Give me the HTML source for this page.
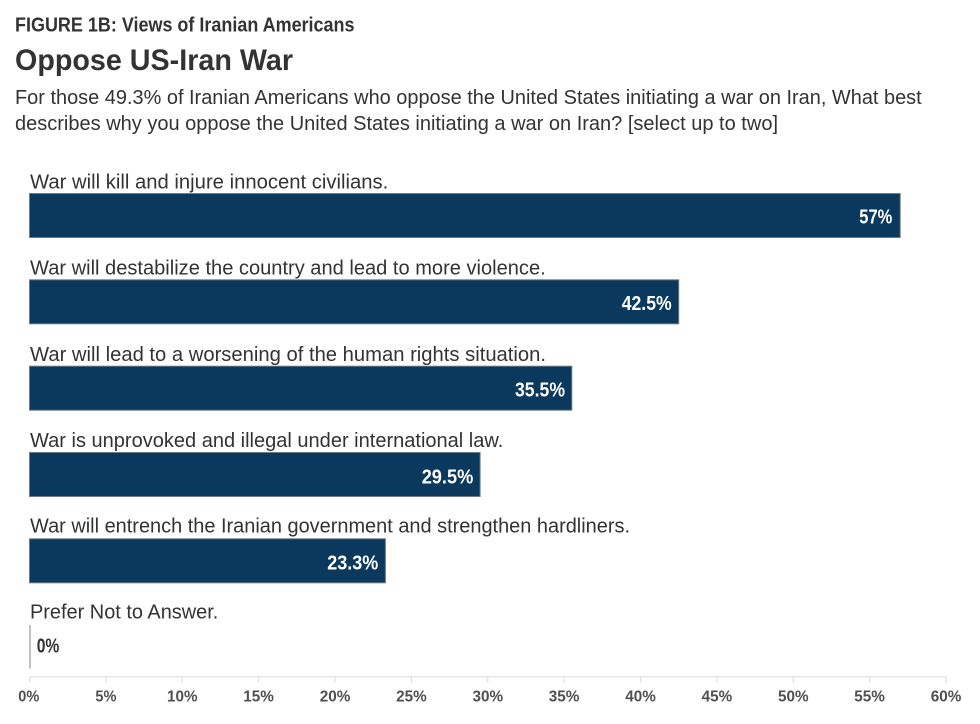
<!DOCTYPE html>
<html>
<head>
<meta charset="utf-8">
<style>
  html, body { margin: 0; padding: 0; background: #ffffff; }
  body { width: 980px; height: 724px; overflow: hidden; }
  svg { display: block; }
  text { font-family: "Liberation Sans Narrow", "Liberation Sans", "DejaVu Sans Condensed", sans-serif; }
</style>
</head>
<body>
<svg width="980" height="724" viewBox="0 0 980 724" xmlns="http://www.w3.org/2000/svg">
  <rect x="0" y="0" width="980" height="724" fill="#ffffff"/>

  <!-- Header -->
  <text x="15" y="31.5" font-size="20" font-weight="bold" fill="#333333" textLength="339.5" lengthAdjust="spacingAndGlyphs">FIGURE 1B: Views of Iranian Americans</text>
  <text x="15" y="70" font-size="30" font-weight="bold" fill="#333333" textLength="278" lengthAdjust="spacingAndGlyphs">Oppose US-Iran War</text>
  <text x="15" y="104" font-size="20" fill="#333333" textLength="906.7" lengthAdjust="spacingAndGlyphs">For those 49.3% of Iranian Americans who oppose the United States initiating a war on Iran, What best</text>
  <text x="15" y="130" font-size="20" fill="#333333" textLength="763" lengthAdjust="spacingAndGlyphs">describes why you oppose the United States initiating a war on Iran? [select up to two]</text>

  <!-- Category labels -->
  <text x="30" y="188.3" font-size="20" fill="#333333" textLength="358.3" lengthAdjust="spacingAndGlyphs">War will kill and injure innocent civilians.</text>
  <text x="30" y="274.7" font-size="20" fill="#333333" textLength="515.7" lengthAdjust="spacingAndGlyphs">War will destabilize the country and lead to more violence.</text>
  <text x="30" y="361" font-size="20" fill="#333333" textLength="516" lengthAdjust="spacingAndGlyphs">War will lead to a worsening of the human rights situation.</text>
  <text x="30" y="447" font-size="20" fill="#333333" textLength="473.3" lengthAdjust="spacingAndGlyphs">War is unprovoked and illegal under international law.</text>
  <text x="30" y="532.5" font-size="20" fill="#333333" textLength="600" lengthAdjust="spacingAndGlyphs">War will entrench the Iranian government and strengthen hardliners.</text>
  <text x="30" y="618.3" font-size="20" fill="#333333" textLength="188.3" lengthAdjust="spacingAndGlyphs">Prefer Not to Answer.</text>

  <!-- Bars -->
  <g fill="#0b385d" stroke="#6f7a84" stroke-width="1">
    <rect x="29.5" y="193.5" width="870.7" height="44"/>
    <rect x="29.5" y="279.8" width="649.2" height="44"/>
    <rect x="29.5" y="366.2" width="542.3" height="44"/>
    <rect x="29.5" y="452.5" width="450.6" height="44"/>
    <rect x="29.5" y="538.8" width="355.9" height="44"/>
  </g>
  <line x1="30" y1="625" x2="30" y2="668.5" stroke="#9a9a9a" stroke-width="1.2"/>

  <!-- Value labels -->
  <g font-size="20" font-weight="bold" fill="#ffffff" text-anchor="end">
    <text x="892.3" y="223.3" textLength="33" lengthAdjust="spacingAndGlyphs">57%</text>
    <text x="671.7" y="309.8" textLength="50" lengthAdjust="spacingAndGlyphs">42.5%</text>
    <text x="565" y="396.3" textLength="50" lengthAdjust="spacingAndGlyphs">35.5%</text>
    <text x="473.3" y="483.5" textLength="51.6" lengthAdjust="spacingAndGlyphs">29.5%</text>
    <text x="378.3" y="569.5" textLength="51" lengthAdjust="spacingAndGlyphs">23.3%</text>
  </g>
  <text x="36.7" y="652.7" font-size="20" font-weight="bold" fill="#333333" textLength="22.6" lengthAdjust="spacingAndGlyphs">0%</text>

  <!-- Axis -->
  <line x1="29.5" y1="676.8" x2="946" y2="676.8" stroke="#e0e0e0" stroke-width="1.2"/>
  <g stroke="#e0e0e0" stroke-width="1.2">
    <line x1="29.5" y1="677" x2="29.5" y2="683"/>
    <line x1="105.9" y1="677" x2="105.9" y2="683"/>
    <line x1="182.25" y1="677" x2="182.25" y2="683"/>
    <line x1="258.6" y1="677" x2="258.6" y2="683"/>
    <line x1="335" y1="677" x2="335" y2="683"/>
    <line x1="411.4" y1="677" x2="411.4" y2="683"/>
    <line x1="487.75" y1="677" x2="487.75" y2="683"/>
    <line x1="564.1" y1="677" x2="564.1" y2="683"/>
    <line x1="640.5" y1="677" x2="640.5" y2="683"/>
    <line x1="716.9" y1="677" x2="716.9" y2="683"/>
    <line x1="793.25" y1="677" x2="793.25" y2="683"/>
    <line x1="869.6" y1="677" x2="869.6" y2="683"/>
    <line x1="946" y1="677" x2="946" y2="683"/>
  </g>
  <g font-size="16" font-weight="bold" fill="#505050" text-anchor="middle">
    <text x="28.8" y="701.7" textLength="21" lengthAdjust="spacingAndGlyphs">0%</text>
    <text x="105.9" y="701.7" textLength="21" lengthAdjust="spacingAndGlyphs">5%</text>
    <text x="182.25" y="701.7" textLength="30.6" lengthAdjust="spacingAndGlyphs">10%</text>
    <text x="258.6" y="701.7" textLength="30.6" lengthAdjust="spacingAndGlyphs">15%</text>
    <text x="335" y="701.7" textLength="30.6" lengthAdjust="spacingAndGlyphs">20%</text>
    <text x="411.4" y="701.7" textLength="30.6" lengthAdjust="spacingAndGlyphs">25%</text>
    <text x="487.75" y="701.7" textLength="30.6" lengthAdjust="spacingAndGlyphs">30%</text>
    <text x="564.1" y="701.7" textLength="30.6" lengthAdjust="spacingAndGlyphs">35%</text>
    <text x="640.5" y="701.7" textLength="30.6" lengthAdjust="spacingAndGlyphs">40%</text>
    <text x="716.9" y="701.7" textLength="30.6" lengthAdjust="spacingAndGlyphs">45%</text>
    <text x="793.25" y="701.7" textLength="30.6" lengthAdjust="spacingAndGlyphs">50%</text>
    <text x="869.6" y="701.7" textLength="30.6" lengthAdjust="spacingAndGlyphs">55%</text>
    <text x="946" y="701.7" textLength="30.6" lengthAdjust="spacingAndGlyphs">60%</text>
  </g>
</svg>
</body>
</html>
